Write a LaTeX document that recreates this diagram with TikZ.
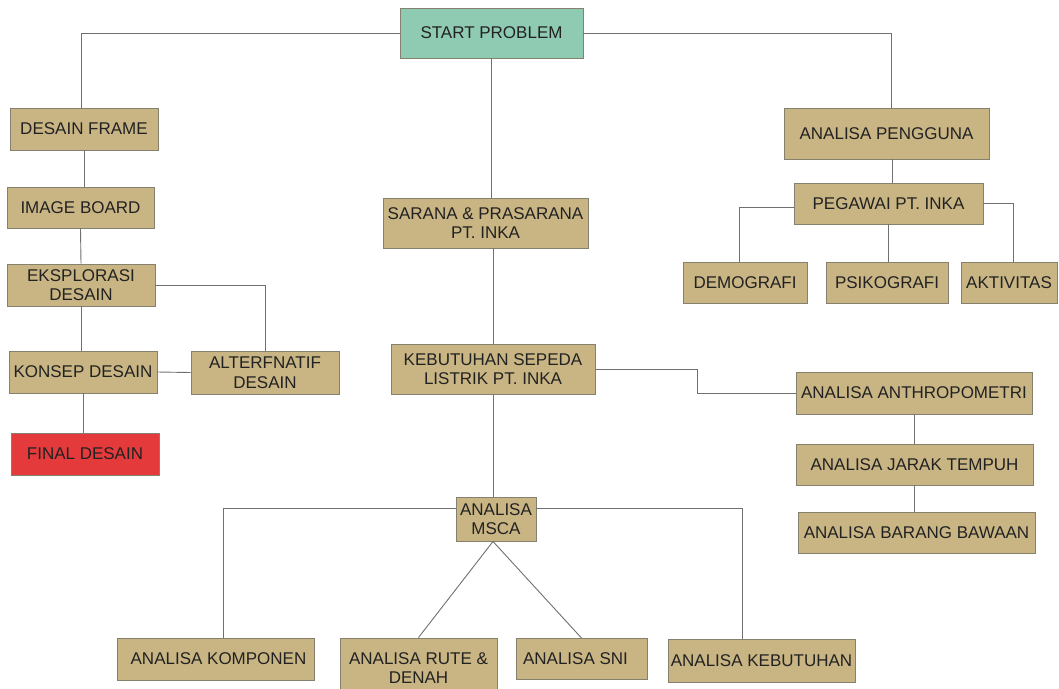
\documentclass[tikz,border=0pt]{standalone}
\usepackage{fontspec}
\setmainfont{Liberation Sans}
\definecolor{tanfill}{HTML}{C9B584}
\definecolor{tealfill}{HTML}{8FCAB3}
\definecolor{redfill}{HTML}{E53A3C}
\definecolor{boxline}{HTML}{86806E}
\definecolor{linkline}{HTML}{707070}
\definecolor{txt}{HTML}{222222}
\tikzset{
  boxbase/.style={draw=boxline, line width=0.9pt, inner sep=0pt, align=center,
    text=txt, font=\fontsize{17}{19.5}\selectfont, fill=tanfill},
  tanbox/.style={boxbase},
  tealbox/.style={boxbase, fill=tealfill},
  redbox/.style={boxbase, fill=redfill},
  link/.style={draw=linkline, line width=0.9pt}
}
\newcommand{\bx}[6]{\node[#1, minimum width=#4pt, minimum height=#5pt] (#2) at #3 {#6};}
\begin{document}
\begin{tikzpicture}[x=1pt,y=-1pt]
\useasboundingbox (0,0) rectangle (1059,688);
\clip (0,0) rectangle (1059,688);
\fill[white] (0,0) rectangle (1059,688);
% nodes
\bx{tealbox}{start}{(491.5,33)}{183}{50}{START PROBLEM}
\bx{tanbox}{df}{(84,129)}{148}{42}{DESAIN FRAME}
\bx{tanbox}{ib}{(80.5,207.5)}{147}{41}{IMAGE BOARD}
\bx{tanbox}{eks}{(81,285)}{148}{42}{EKSPLORASI\\DESAIN}
\bx{tanbox}{kon}{(83,372)}{148}{42}{KONSEP DESAIN}
\bx{tanbox}{alt}{(265,372.5)}{148}{43}{ALTERFNATIF\\DESAIN}
\bx{redbox}{fin}{(85,454)}{148}{42}{FINAL DESAIN}
\bx{tanbox}{sar}{(485.5,223)}{205}{50}{SARANA \& PRASARANA\\PT. INKA}
\bx{tanbox}{keb}{(493,369)}{204}{50}{KEBUTUHAN SEPEDA\\LISTRIK PT. INKA}
\bx{tanbox}{msca}{(496,519)}{80}{44}{ANALISA\\MSCA}
\bx{tanbox}{kom}{(215.5,659)}{197}{42}{\hspace{6pt}ANALISA KOMPONEN}
\bx{tanbox}{rute}{(418.5,668)}{157}{60}{ANALISA RUTE \&\\DENAH}
\bx{tanbox}{sni}{(581.5,659)}{131}{41}{ANALISA SNI\hspace{12pt}}
\bx{tanbox}{kebt}{(761.5,660.5)}{187}{43}{ANALISA KEBUTUHAN}
\bx{tanbox}{peng}{(886.5,133.5)}{205}{51}{ANALISA PENGGUNA}
\bx{tanbox}{peg}{(888.5,203.5)}{189}{41}{PEGAWAI PT. INKA}
\bx{tanbox}{demo}{(745,282.5)}{124}{41}{DEMOGRAFI}
\bx{tanbox}{psi}{(887,282.5)}{122}{41}{PSIKOGRAFI}
\bx{tanbox}{akt}{(1009,282.5)}{96}{41}{AKTIVITAS}
\bx{tanbox}{anth}{(914,393)}{236}{42}{ANALISA ANTHROPOMETRI}
\bx{tanbox}{jar}{(914.5,464.5)}{237}{41}{ANALISA JARAK TEMPUH}
\bx{tanbox}{bar}{(916.5,532.5)}{237}{41}{ANALISA BARANG BAWAAN}
% connectors
\draw[link] (start.west) -- ([xshift=-3pt]df.north |- start.west) -- ([xshift=-3pt]df.north);
\draw[link] (start.east) -- ([xshift=5pt]peng.north |- start.east) -- ([xshift=5pt]peng.north);
\draw[link] (start.south) -- (start.south |- sar.north);
\draw[link] (df.south) -- (df.south |- ib.north);
\draw[link] (ib.south) -- (eks.north);
\draw[link] (eks.south) -- (eks.south |- kon.north);
\draw[link] (kon.south) -- (kon.south |- fin.north);
\draw[link] (eks.east) -| (alt.north);
\draw[link] (kon.east) -- (alt.west);
\draw[link] (keb.north |- sar.south) -- (keb.north);
\draw[link] (keb.east) -- ++(102,0) |- (anth.west);
\draw[link] (keb.south) -- (keb.south |- msca.north);
\draw[link] ([yshift=11pt]msca.west) -| ([xshift=7.5pt]kom.north);
\draw[link] ([yshift=11pt]msca.east) -| ([xshift=-19.5pt]kebt.north);
\draw[link] ([xshift=-3pt]msca.south) -- (rute.north);
\draw[link] ([xshift=-3pt]msca.south) -- (sni.north);
\draw[link] ([xshift=4pt]peg.north |- peng.south) -- ([xshift=4pt]peg.north);
\draw[link] ([yshift=-4pt]peg.west) -| ([xshift=-6pt]demo.north);
\draw[link] (peg.south) -- (peg.south |- psi.north);
\draw[link] (peg.east) -| ([xshift=4pt]akt.north);
\draw[link] (anth.south) -- (anth.south |- jar.north);
\draw[link] (jar.south) -- (jar.south |- bar.north);
\end{tikzpicture}
\end{document}
